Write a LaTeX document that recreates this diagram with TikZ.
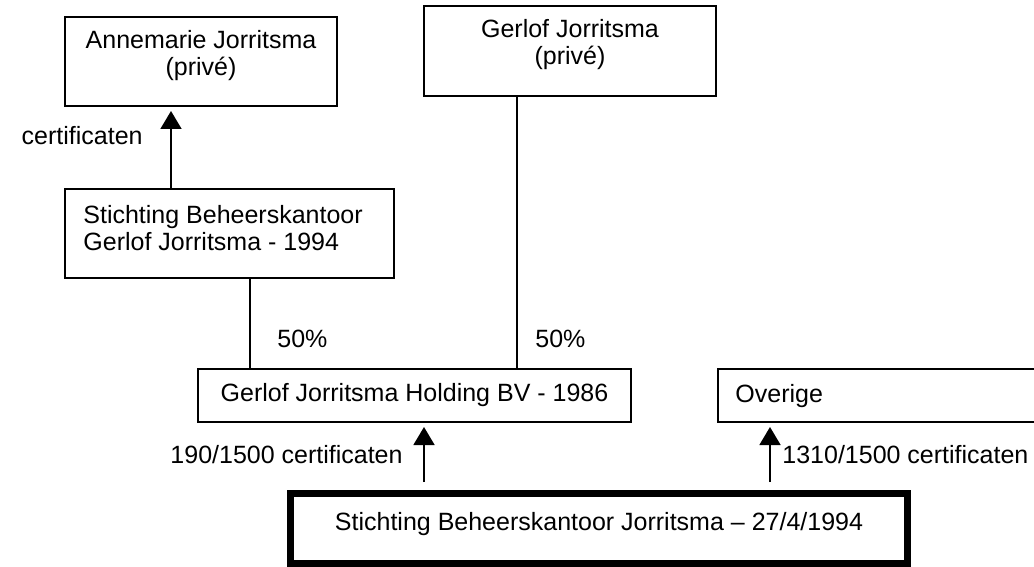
\documentclass[tikz,border=0pt]{standalone}
\usepackage{fontspec}
\setmainfont{Liberation Sans}
\usetikzlibrary{arrows.meta}

\begin{document}
\begin{tikzpicture}[x=0.5pt, y=-0.5pt]
    % --- DEFINE STYLES ---
    % Style for the plain boxes
    \tikzstyle{entity} = [draw, line width=0.9pt, inner sep=0pt, anchor=north west, font=\fontsize{12.5}{13.5}\selectfont]
    % Style for the heavy box at the bottom
    \tikzstyle{mainentity} = [entity, line width=3.5pt]
    % Style for texts
    \tikzstyle{txt} = [inner sep=0pt, align=center, font=\fontsize{12.5}{13.5}\selectfont]
    % Style for lines and arrows
    \tikzstyle{owns} = [line width=0.8pt]
    \tikzstyle{arr} = [owns, -{Triangle[length=9pt, width=10.5pt]}]

    \useasboundingbox (0,0) rectangle (1034,567);

    % --- BOXES ---
    \node[entity, minimum width=136.1pt, minimum height=44.6pt] (ann) at (64,16) {};
    \node[entity, minimum width=164.6pt, minimum height=44.6pt] (sbg) at (64,188) {};
    \node[entity, minimum width=146.1pt, minimum height=45.1pt] (ger) at (423,5) {};
    \node[entity, minimum width=216.6pt, minimum height=26.6pt] (hold) at (197,368) {Gerlof Jorritsma Holding BV - 1986};
    \node[entity, minimum width=160.6pt, minimum height=26.6pt] (ovr) at (717,368) {};
    \node[mainentity, minimum width=308.5pt, minimum height=35pt] (bot) at (287,490) {};

    % Box texts
    \node[txt, anchor=north] (annT) at ([yshift=-7pt]ann.north) {Annemarie Jorritsma\\(privé)};
    \node[txt, anchor=north west, align=left] (sbgT) at ([xshift=9.5pt, yshift=-8.5pt]sbg.north west) {Stichting Beheerskantoor\\Gerlof Jorritsma - 1994};
    \node[txt, anchor=north] (gerT) at ([yshift=-7pt]ger.north) {Gerlof Jorritsma\\(privé)};
    \node[txt, anchor=base west] (ovrT) at ([xshift=9pt, yshift=-17pt]ovr.north west) {Overige};
    \node[txt, anchor=base] (botT) at ([yshift=-20pt]bot.north) {Stichting Beheerskantoor Jorritsma – 27/4/1994};

    % --- CONNECTIONS ---
    \coordinate (upA) at ([xshift=53.5pt]sbg.north west);
    \draw[arr, shorten >=2pt] (upA) -- (upA |- ann.south);
    \coordinate (dnA) at ([xshift=93pt]sbg.south west);
    \draw[owns] (dnA) -- (dnA |- hold.north);
    \coordinate (dnB) at ([xshift=47pt]ger.south west);
    \draw[owns] (dnB) -- (dnB |- hold.north);
    \coordinate (inA) at ([xshift=4.75pt]hold.south);
    \draw[arr, shorten <=4pt, shorten >=2pt] (inA |- bot.north) -- (inA);
    \coordinate (inB) at ([xshift=26.5pt]ovr.south west);
    \draw[arr, shorten <=4pt, shorten >=2pt] (inB |- bot.north) -- (inB);

    % Labels
    \node[txt, anchor=base east] (certA) at (143,145) {certificaten};
    \node[txt, anchor=base west] (pctA) at (277,347) {50\%};
    \node[txt, anchor=base west] (pctB) at (535,347) {50\%};
    \node[txt, anchor=base east] (certB) at (403,463) {190/1500 certificaten};
    \node[txt, anchor=base west] (certC) at (782,463) {1310/1500 certificaten};
\end{tikzpicture}
\end{document}
